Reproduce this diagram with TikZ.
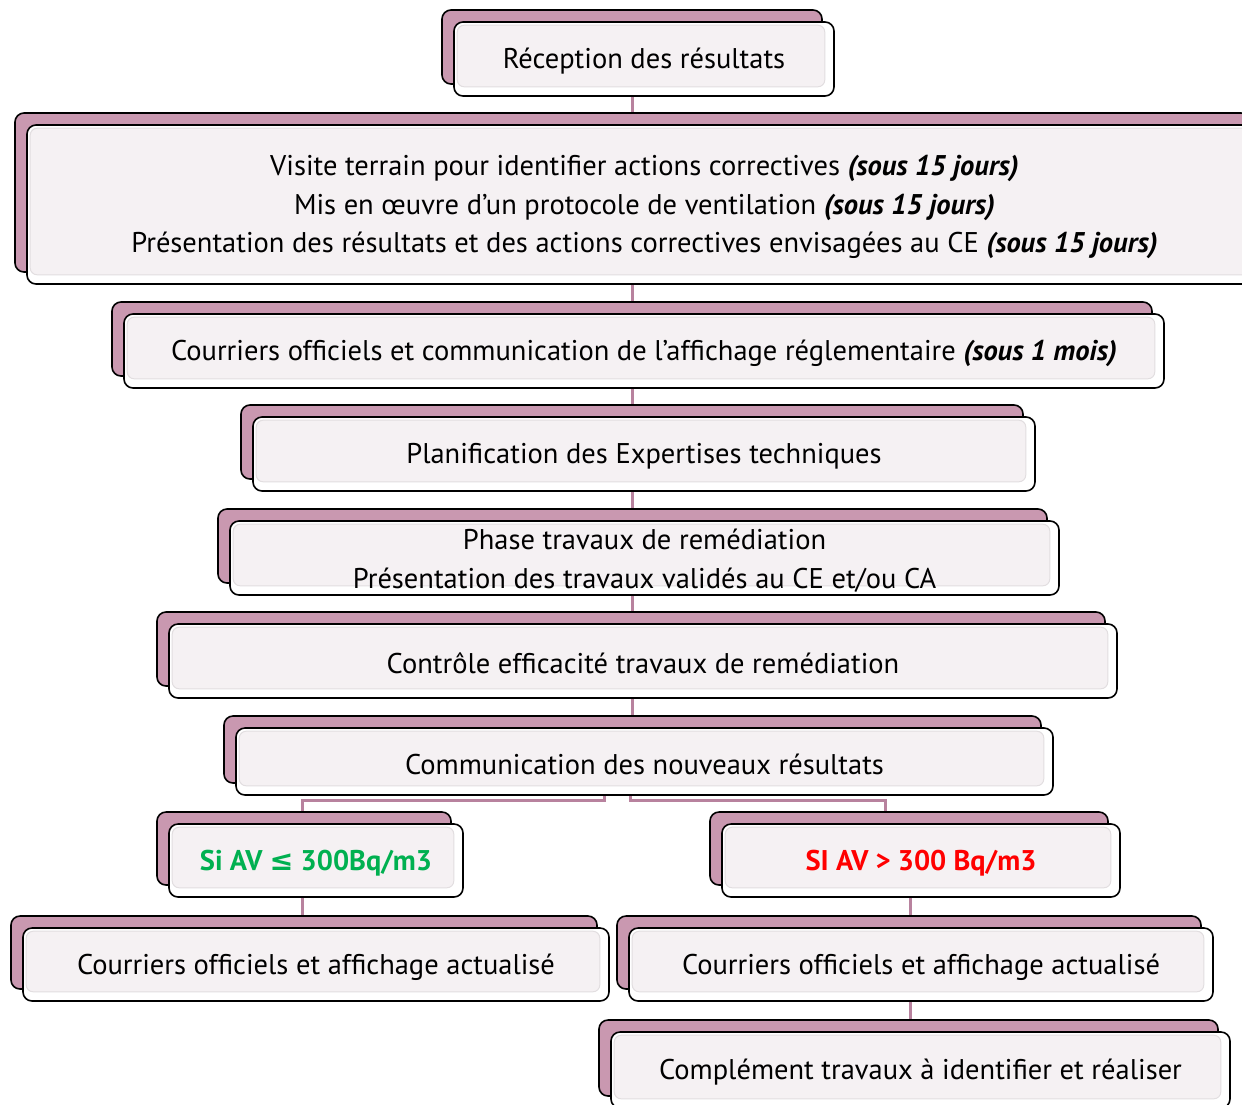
\documentclass[tikz,border=0pt]{standalone}
\usepackage{fontspec}
\setmainfont{PT Sans}
\newfontfamily\symfont{DejaVu Sans}
\definecolor{backfill}{RGB}{201,152,176}
\definecolor{frontfill}{RGB}{245,241,243}
\definecolor{glossline}{RGB}{226,222,224}
\definecolor{connc}{RGB}{184,130,158}
\definecolor{okgreen}{RGB}{0,176,80}
\definecolor{badred}{RGB}{255,0,0}
\pgfdeclarelayer{paper}
\pgfdeclarelayer{bg}
\pgfsetlayers{paper,bg,main}
\tikzset{
  backbox/.style={draw=black, line width=1.6pt, fill=backfill, rounded corners=9pt, inner sep=0pt},
  frontbox/.style={draw=black, line width=1.6pt, fill=white, rounded corners=9pt, inner sep=0pt},
  gloss/.style={draw=glossline, line width=1pt, fill=frontfill, rounded corners=7pt},
  txt/.style={align=center, inner sep=0pt, yshift=-2.5pt, font=\fontsize{28.5pt}{38.5pt}\selectfont},
  conn/.style={draw=connc, line width=3pt}
}
\newcommand\pairbox[6]{%
  \pgfmathsetmacro\pbw{#4-#2}\pgfmathsetmacro\pbh{#5-#3}%
  \pgfmathsetmacro\pbx{(#2+#4)/2}\pgfmathsetmacro\pby{(#3+#5)/2}%
  \node[backbox, minimum width=\pbw pt, minimum height=\pbh pt] (#1-back) at (\pbx-12,\pby-12) {};
  \node[frontbox, minimum width=\pbw pt, minimum height=\pbh pt] (#1) at (\pbx,\pby) {};
  \path[gloss] ([shift={(4,4)}]#1.north west) rectangle ([shift={(-10,-10)}]#1.south east);
  \node[txt] (#1-text) at (#1.center) {#6};
}
\begin{document}
\begin{tikzpicture}[x=1pt,y=-1pt]
\clip (0,0) rectangle (1242,1104);
\begin{pgfonlayer}{paper}
\fill[white] (0,0) rectangle (1242,1104);
\end{pgfonlayer}
\coordinate (spine) at (632,0);
\coordinate (jL) at (604,800);
\coordinate (jR) at (630,800);
\coordinate (lowline) at (302,0);
\coordinate (highline) at (885,0);
\coordinate (rightline) at (910,0);
\pairbox{recep}{454}{22}{834}{96}{Réception des résultats}
\pairbox{visite}{27}{125}{1262}{284}{Visite terrain pour identifier actions correctives \textbf{\textit{(sous 15 jours)}}\\Mis en œuvre d’un protocole de ventilation \textbf{\textit{(sous 15 jours)}}\\Présentation des résultats et des actions correctives envisagées au CE \textbf{\textit{(sous 15 jours)}}}
\pairbox{courrier}{124}{314}{1164}{388}{Courriers officiels et communication de l’affichage réglementaire \textbf{\textit{(sous 1 mois)}}}
\pairbox{planif}{253}{417}{1035}{491}{Planification des Expertises techniques}
\pairbox{phase}{230}{521}{1059}{595}{Phase travaux de remédiation\\Présentation des travaux validés au CE et/ou CA}
\pairbox{controle}{169}{624}{1117}{698}{Contrôle efficacité travaux de remédiation}
\pairbox{comm}{236}{728}{1053}{795}{Communication des nouveaux résultats}
\pairbox{low}{169}{824}{463}{897}{\textbf{\color{okgreen}Si AV {\symfont ≤} 300Bq/m3}}
\pairbox{high}{722}{824}{1120}{897}{\textbf{\color{badred}SI AV > 300 Bq/m3}}
\pairbox{lowcour}{23}{928}{609}{1001}{Courriers officiels et affichage actualisé}
\pairbox{highcour}{629}{928}{1213}{1001}{Courriers officiels et affichage actualisé}
\pairbox{compl}{611}{1032}{1230}{1108}{Complément travaux à identifier et réaliser}
\begin{pgfonlayer}{bg}
\draw[conn] (recep.south -| spine) -- (visite-back.north -| spine);
\draw[conn] (visite.south -| spine) -- (courrier-back.north -| spine);
\draw[conn] (courrier.south -| spine) -- (planif-back.north -| spine);
\draw[conn] (planif.south -| spine) -- (phase-back.north -| spine);
\draw[conn] (phase.south -| spine) -- (controle-back.north -| spine);
\draw[conn] (controle.south -| spine) -- (comm-back.north -| spine);
\draw[conn] (comm.south -| jL) -- (jL) -| (low-back.north -| lowline);
\draw[conn] (comm.south -| jR) -- (jR) -| (high-back.north -| highline);
\draw[conn] (low.south -| lowline) -- (lowcour-back.north -| lowline);
\draw[conn] (high.south -| rightline) -- (highcour-back.north -| rightline);
\draw[conn] (highcour.south -| rightline) -- (compl-back.north -| rightline);
\end{pgfonlayer}
\end{tikzpicture}
\end{document}
